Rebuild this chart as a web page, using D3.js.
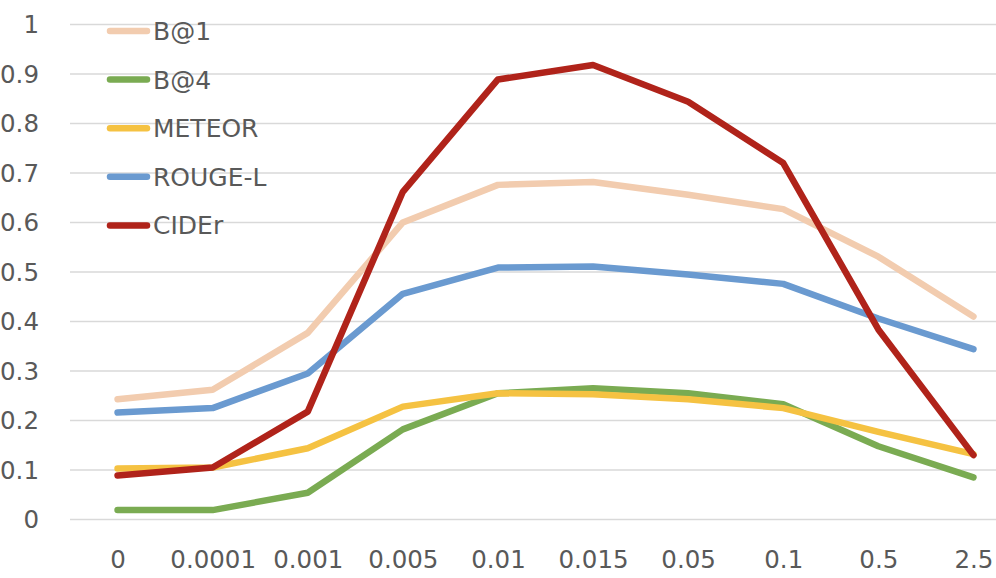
<!DOCTYPE html>
<html>
<head>
<meta charset="utf-8">
<script src="https://cdn.jsdelivr.net/npm/d3@7"></script>
<style>
  html, body { margin: 0; padding: 0; background: #fff; }
  svg { display: block; }
  text { font-family: "DejaVu Sans", sans-serif; fill: #595959; }
</style>
</head>
<body>
<svg id="chart" width="996" height="578"></svg>
<script>
const categories = ["0", "0.0001", "0.001", "0.005", "0.01", "0.015", "0.05", "0.1", "0.5", "2.5"];
const seriesNames = ["B@1", "B@4", "METEOR", "ROUGE-L", "CIDEr"];
const b1     = [0.242, 0.261, 0.376, 0.599, 0.675, 0.681, 0.655, 0.626, 0.530, 0.409];
const b4     = [0.018, 0.018, 0.053, 0.181, 0.254, 0.264, 0.254, 0.232, 0.147, 0.084];
const meteor = [0.102, 0.104, 0.143, 0.227, 0.254, 0.252, 0.242, 0.224, 0.176, 0.131];
const rouge  = [0.215, 0.224, 0.294, 0.455, 0.508, 0.510, 0.494, 0.475, 0.405, 0.343];
const cider  = [0.088, 0.104, 0.217, 0.661, 0.888, 0.917, 0.843, 0.719, 0.383, 0.129];
const yTicks = [0, 0.1, 0.2, 0.3, 0.4, 0.5, 0.6, 0.7, 0.8, 0.9, 1];
const colors = ["#F2CCAF", "#7AAB52", "#F5C242", "#6A9AD0", "#B0231A"];

const series = [b1, b4, meteor, rouge, cider].map((vals, i) => ({ name: seriesNames[i], values: vals, color: colors[i] }));

const svg = d3.select("#chart");
const x = d3.scalePoint().domain(categories).range([70, 1021]).padding(0.5);
const y = d3.scaleLinear().domain([0, 1]).range([519, 24]);

// gridlines + y labels
const yAxis = d3.axisLeft(y).tickValues(yTicks).tickFormat(d => d3.format("~g")(d))
  .tickSize(-(1021 - 70)).tickPadding(31);
const gy = svg.append("g").attr("transform", "translate(70,0)").call(yAxis);
gy.select(".domain").remove();
gy.selectAll(".tick line").attr("stroke", "#D9D9D9").attr("stroke-width", 1.4);
gy.selectAll(".tick text").attr("font-size", 24.5).attr("fill", "#595959")
  .attr("font-family", "DejaVu Sans, sans-serif").attr("dy", "0.36em");

// x axis labels
const xAxis = d3.axisBottom(x).tickSize(0).tickPadding(0);
const gx = svg.append("g").attr("transform", "translate(0,550)").call(xAxis);
gx.select(".domain").remove();
gx.selectAll(".tick text").attr("font-size", 24.5).attr("fill", "#595959")
  .attr("font-family", "DejaVu Sans, sans-serif").attr("dy", "0.74em");

// lines
const line = d3.line().x((d, i) => x(categories[i])).y(d => y(d));
svg.append("g").selectAll("path").data(series).join("path")
  .attr("d", d => line(d.values))
  .attr("fill", "none")
  .attr("stroke", d => d.color)
  .attr("stroke-width", 6.5)
  .attr("stroke-linejoin", "round")
  .attr("stroke-linecap", "round");

// legend
const lg = svg.append("g");
const rows = lg.selectAll("g").data(series).join("g")
  .attr("transform", (d, i) => `translate(107,${31 + i * 48.6})`);
rows.append("line").attr("x1", 3).attr("x2", 40).attr("y1", 0).attr("y2", 0)
  .attr("stroke", d => d.color).attr("stroke-width", 6.5).attr("stroke-linecap", "round");
rows.append("text").attr("x", 46).attr("y", 0).attr("dy", "0.36em")
  .attr("font-size", 25).text(d => d.name);
</script>
</body>
</html>
